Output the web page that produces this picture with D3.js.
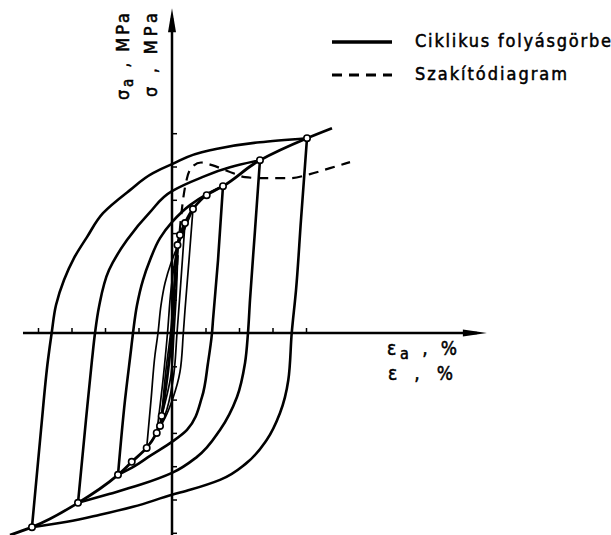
<!DOCTYPE html>
<html><head><meta charset="utf-8">
<script src="https://cdn.jsdelivr.net/npm/d3@7"></script>
<style>html,body{margin:0;padding:0;background:#fff;} svg{display:block}</style>
</head><body>
<svg id="chart" width="611" height="535"></svg>
<script>
// ---- data: strain in %, stress in MPa ----
const strainTicks = [-2, -1.5, -1, -0.5, 0.5, 1, 1.5, 2];
const stressTicks = [-600, -500, -400, -300, -200, -100, 100, 200, 300, 400, 500, 600];

// hysteresis loops (ascending branch: lower tip -> upper tip, descending: upper tip -> lower tip)
const loop1Up = [[-2.090,-583],[-1.955,-291],[-1.851,-81],[-1.796,0],[-1.731,84],[-1.612,159],[-1.463,225],[-1.269,288],[-1.030,360],[-0.627,429],[-0.284,480],[0,507],[0.567,549],[1.313,573],[2.015,585]];
const loop1Down = [[2.015,585],[1.925,339],[1.851,129],[1.787,0],[1.736,-141],[1.612,-240],[1.413,-321],[1.115,-390],[0.716,-441],[0.269,-471],[0,-486],[-0.582,-522],[-1.075,-546],[-1.567,-567],[-2.090,-583]];
const loop2Up = [[-1.403,-510],[-1.284,-261],[-1.194,-81],[-1.149,0],[-1.090,78],[-0.940,189],[-0.672,279],[-0.328,363],[0,426],[0.418,465],[0.866,498],[1.313,519]];
const loop2Down = [[1.313,519],[1.239,309],[1.164,99],[1.134,0],[1.090,-90],[0.970,-192],[0.716,-291],[0.373,-372],[0,-420],[-0.478,-456],[-0.925,-483],[-1.403,-510]];
const loop3Up = [[-0.806,-426],[-0.701,-201],[-0.612,-51],[-0.582,0],[-0.522,84],[-0.433,159],[-0.328,219],[-0.179,285],[0,333],[0.269,384],[0.522,417],[0.761,441]];
const loop3Down = [[0.761,441],[0.687,219],[0.612,39],[0.597,0],[0.537,-90],[0.448,-192],[0.224,-291],[0,-327],[-0.328,-369],[-0.552,-399],[-0.806,-426]];
const loop4Up = [[-0.378,-345],[-0.313,-201],[-0.254,-66],[-0.209,0],[-0.164,84],[-0.104,150],[-0.015,210],[0.090,264],[0.194,315],[0.313,372]];
const loop4Down = [[0.313,372],[0.254,219],[0.194,69],[0.169,0],[0.119,-117],[0.015,-195],[-0.104,-255],[-0.254,-309],[-0.378,-345]];
const loop5Up = [[-0.228,-300],[-0.134,-141],[-0.067,0],[-0.015,129],[0.060,234],[0.194,330]];
const loop5Down = [[0.194,330],[0.134,159],[0.075,0],[0.015,-141],[-0.104,-246],[-0.228,-300]];
const loop6Up = [[-0.154,-249],[-0.090,-111],[-0.022,0],[0.030,129],[0.090,264]];
const loop6Down = [[0.090,264],[0.060,99],[0.030,0],[-0.015,-126],[-0.154,-249]];

// measured loop tips (circles) on the cyclic stress-strain curve
const tipsLower = [[-2.090,-583],[-1.403,-510],[-0.806,-426],[-0.601,-387],[-0.378,-345],[-0.228,-300],[-0.179,-279],[-0.154,-249]];
const tipsUpper = [[0.082,264],[0.119,294],[0.194,330],[0.313,372],[0.518,414],[0.761,441],[1.313,519],[2.015,585]];
const cyclicStart = [-2.418,-607];
const cyclicEnd = [2.388,615];

// monotonic tensile diagram (dashed)
const tensile = [[0,0],[0.060,159],[0.104,279],[0.164,399],[0.224,465],[0.313,501],[0.433,512],[0.597,504],[0.836,486],[1.090,468],[1.343,465],[1.761,465],[2.060,477],[2.358,495],[2.657,513]];

const strainExtent = [-2.224, 4.7];
const stressExtent = [-607, 975];

// ---- drawing ----
const svg = d3.select("#chart");
const x = d3.scaleLinear().domain([-2, 2]).range([38, 306]);
const y = d3.scaleLinear().domain([-600, 600]).range([532.8, 133.2]);

const lineY = d3.line().x(d => x(d[0])).y(d => y(d[1])).curve(d3.curveMonotoneY);
const lineX = d3.line().x(d => x(d[0])).y(d => y(d[1])).curve(d3.curveMonotoneX);

// axes lines
svg.append("line").attr("x1", x(strainExtent[0])).attr("x2", x(strainExtent[1]) - 10)
  .attr("y1", y(0)).attr("y2", y(0)).attr("stroke", "#000").attr("stroke-width", 2.3);
svg.append("line").attr("x1", x(0)).attr("x2", x(0))
  .attr("y1", y(stressExtent[0])).attr("y2", y(stressExtent[1]) + 10).attr("stroke", "#000").attr("stroke-width", 2.5);
const xe = x(strainExtent[1]), ye = y(stressExtent[1]);
svg.append("path").attr("d", `M${xe},${y(0)} L${xe-24},${y(0)-3.5} L${xe-24},${y(0)+3.5} Z`).attr("fill", "#000");
svg.append("path").attr("d", `M${x(0)},${ye} L${x(0)-4},${ye+24} L${x(0)+4},${ye+24} Z`).attr("fill", "#000");

// ticks
const xAxis = svg.append("g").attr("transform", `translate(0,${y(0)})`)
  .call(d3.axisTop(x).tickValues(strainTicks).tickSize(5).tickFormat(""));
xAxis.select(".domain").remove();
xAxis.selectAll("line").attr("stroke-width", 1.5);
const yAxis = svg.append("g").attr("transform", `translate(${x(0)},0)`)
  .call(d3.axisRight(y).tickValues(stressTicks).tickSize(5).tickFormat(""));
yAxis.select(".domain").remove();
yAxis.selectAll("line").attr("stroke-width", 1.5);

// loops
const bigLoops = [loop1Up, loop1Down, loop2Up, loop2Down, loop3Up, loop3Down];
const smallLoops = [loop4Up, loop4Down, loop5Up, loop5Down, loop6Up, loop6Down];
svg.append("g").selectAll("path").data(bigLoops).join("path")
  .attr("d", lineY).attr("fill", "none").attr("stroke", "#000").attr("stroke-width", 2.6)
  .attr("stroke-linejoin", "round");
svg.append("g").selectAll("path").data(smallLoops).join("path")
  .attr("d", lineY).attr("fill", "none").attr("stroke", "#000").attr("stroke-width", 1.7)
  .attr("stroke-linejoin", "round");

// tensile dashed
svg.append("path").attr("d", lineX(tensile)).attr("fill", "none").attr("stroke", "#000")
  .attr("stroke-width", 2.2).attr("stroke-dasharray", "10,7");

// cyclic curve
const cyclicCurve = [cyclicStart, ...tipsLower, [0, 0], ...tipsUpper, cyclicEnd];
svg.append("path").attr("d", lineY(cyclicCurve)).attr("fill", "none").attr("stroke", "#000").attr("stroke-width", 2.8);

// circles
svg.append("g").selectAll("circle").data([...tipsLower, ...tipsUpper]).join("circle")
  .attr("cx", d => x(d[0])).attr("cy", d => y(d[1])).attr("r", 3.2)
  .attr("fill", "#fff").attr("stroke", "#000").attr("stroke-width", 1.6);

// labels
const font = "'DejaVu Sans Condensed', 'DejaVu Sans', sans-serif";
function styleText(t, size, len) {
  t.attr("font-family", font).attr("font-size", size).attr("textLength", len).attr("lengthAdjust", "spacing")
   .attr("stroke", "#000").attr("stroke-width", 0.5).attr("fill", "#000");
  return t;
}
function yLabel(tx, ty, len, sub) {
  const t = styleText(svg.append("text").attr("transform", `translate(${tx},${ty}) rotate(-90)`), 18, len);
  t.append("tspan").text("σ");
  if (sub) {
    t.append("tspan").attr("dy", 4).attr("font-size", 15).text("a");
    t.append("tspan").attr("dy", -4).text(" , MPa");
  } else {
    t.append("tspan").text(" , MPa");
  }
}
yLabel(129, 100, 87, true);
yLabel(157, 97, 84, false);

function xLabel(tx, ty, len, sub) {
  const t = styleText(svg.append("text").attr("x", tx).attr("y", ty), 19, len);
  t.append("tspan").text("ε");
  if (sub) {
    t.append("tspan").attr("dy", 4).attr("font-size", 16).text("a");
    t.append("tspan").attr("dy", -4).text(" , %");
  } else {
    t.append("tspan").text(" , %");
  }
}
xLabel(387, 355, 70, true);
xLabel(388, 380, 65, false);

// legend
svg.append("line").attr("x1", 332).attr("x2", 392).attr("y1", 42).attr("y2", 42).attr("stroke", "#000").attr("stroke-width", 3.5);
svg.append("line").attr("x1", 332).attr("x2", 392).attr("y1", 75).attr("y2", 75).attr("stroke", "#000").attr("stroke-width", 3).attr("stroke-dasharray", "10,7");
styleText(svg.append("text").attr("x", 415).attr("y", 47), 18, 196).text("Ciklikus folyásgörbe");
styleText(svg.append("text").attr("x", 415).attr("y", 80), 18, 152).text("Szakítódiagram");
</script>
</body></html>
